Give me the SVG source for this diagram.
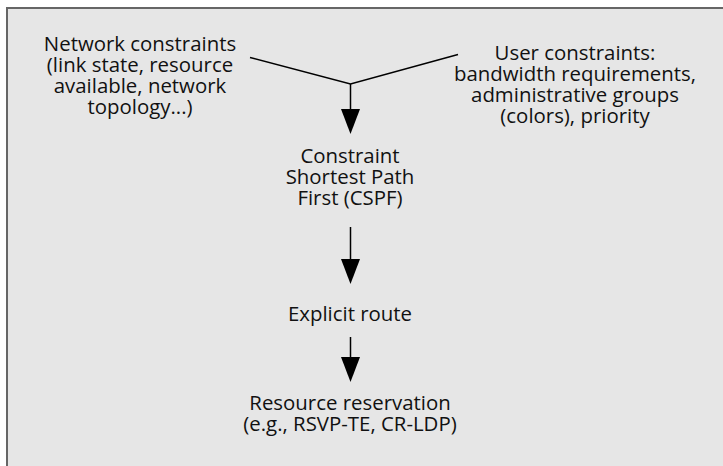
<svg xmlns="http://www.w3.org/2000/svg" width="723" height="466" viewBox="0 0 723 466">
<style>
text { font-family: "Open Sans", "Noto Sans", "Liberation Sans", sans-serif; font-size: 20.4px; fill: #111; text-anchor: middle; }
.ln { stroke: #000; stroke-width: 1.5; fill: none; }
</style>
<rect x="7" y="8" width="730" height="470" fill="#e6e6e6" stroke="#666" stroke-width="2"/>
<g id="network-constraints">
<text x="140" y="51">Network constraints</text>
<text x="140" y="72">(link state, resource</text>
<text x="140" y="93">available, network</text>
<text x="140" y="114">topology...)</text>
</g>
<g id="user-constraints">
<text x="575" y="60">User constraints:</text>
<text x="575" y="81">bandwidth requirements,</text>
<text x="575" y="102">administrative groups</text>
<text x="575" y="123">(colors), priority</text>
</g>
<g id="cspf">
<text x="350" y="163">Constraint</text>
<text x="350" y="184">Shortest Path</text>
<text x="350" y="205">First (CSPF)</text>
</g>
<g id="explicit-route">
<text x="350" y="321">Explicit route</text>
</g>
<g id="resource-reservation">
<text x="350" y="410">Resource reservation</text>
<text x="350" y="431">(e.g., RSVP-TE, CR-LDP)</text>
</g>
<g id="connectors">
<polyline class="ln" points="250,57.5 350.5,84 458,54.5"/>
<line class="ln" x1="350.5" y1="84" x2="350.5" y2="110"/>
<polygon points="341,109 360,109 350.5,134" fill="#000"/>
<line class="ln" x1="350.5" y1="227" x2="350.5" y2="260"/>
<polygon points="341,259 360,259 350.5,284" fill="#000"/>
<line class="ln" x1="350.5" y1="337" x2="350.5" y2="358"/>
<polygon points="341,357 360,357 350.5,382" fill="#000"/>
</g>
</svg>
